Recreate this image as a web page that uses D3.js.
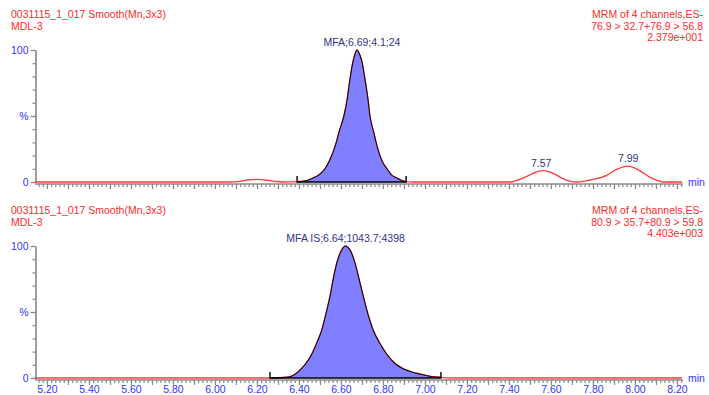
<!DOCTYPE html>
<html>
<head>
<meta charset="utf-8">
<script src="https://cdn.jsdelivr.net/npm/d3@7"></script>
<style>
  body { margin: 0; background: #fff; }
  svg { display: block; font-family: "Liberation Sans", Arial, sans-serif; }
</style>
</head>
<body>
<div id="draw-area"></div>
<script>
// ---- data (time in min, intensity in %) ----
var topTime = [5.143, 6.072, 6.119, 6.157, 6.200, 6.238, 6.286, 6.324, 6.391,
               6.429, 6.467, 6.500, 6.524, 6.548, 6.572, 6.595, 6.614, 6.629, 6.643, 6.657, 6.667, 6.676,
               6.688, 6.700, 6.714, 6.729, 6.738, 6.757, 6.772, 6.795, 6.819, 6.843, 6.867, 6.891, 6.910,
               6.95, 7.405, 7.468, 7.514, 7.563, 7.611, 7.651, 7.691, 7.722, 7.786, 7.865, 7.913, 7.968,
               8.024, 8.072, 8.119, 8.133, 8.224];
var topPct  = [0, 0, 0.5, 1.5, 2, 1.5, 0.5, 0, 0.3,
               0.8, 3, 6, 10, 17, 27, 40, 50, 62, 78, 91, 97, 100,
               97, 91, 78, 62, 50, 37, 27, 16, 10, 5, 3, 1, 0.3,
               0, 0, 3, 6.5, 8.6, 6.5, 3, 0.5, 0, 1.5, 5, 9.5, 12,
               8.5, 3.5, 0.5, 0, 0];
var topPeak = [6.391, 6.910];          // integration markers

var botTime = [5.143, 6.262, 6.310, 6.357, 6.405, 6.433, 6.461, 6.486, 6.508, 6.529, 6.548, 6.562,
               6.580, 6.600, 6.612, 6.622, 6.633, 6.643, 6.667, 6.686, 6.706, 6.729, 6.754, 6.786, 6.818,
               6.857, 6.897, 6.938, 6.976, 7.038, 7.076, 7.12, 8.224];
var botPct  = [0, 0, 0.3, 1, 6, 11, 18, 27, 36, 49, 62, 74,
               87, 96, 99, 100, 99, 97, 87, 75, 62, 48, 36, 26, 18,
               11, 7, 4.5, 3, 1, 0.5, 0, 0];
var botPeak = [6.262, 7.076];

var xLabels = ["5.20","5.40","5.60","5.80","6.00","6.20","6.40","6.60","6.80","7.00",
               "7.20","7.40","7.60","7.80","8.00","8.20"];

var headerLeft  = ["0031115_1_017 Smooth(Mn,3x3)", "MDL-3"];
var topRight    = ["MRM of 4 channels,ES-", "76.9 > 32.7+76.9 > 56.8", "2.379e+001"];
var botRight    = ["MRM of 4 channels,ES-", "80.9 > 35.7+80.9 > 59.8", "4.403e+003"];

var topLabels = [{t: 6.676, p: 100, text: "MFA;6.69;4.1;24", dx: 5},
                 {t: 7.563, p: 8.6, text: "7.57", dx: -2},
                 {t: 7.968, p: 12,  text: "7.99", dx: 0}];
var botLabels = [{t: 6.622, p: 100, text: "MFA IS;6.64;1043.7;4398", dx: 0}];

var svgw = 709, svgh = 395;
var RED = "#ff2a2a", BLUE = "#3333ff", NAVY = "#333388", GREY = "#8a8a8a";

var svg = d3.select("#draw-area").append("svg")
    .attr("width", svgw).attr("height", svgh)
    .style("font-size", "10.5px");

var x = d3.scaleLinear().domain([5.143, 8.224]).range([35, 682]);

function panel(top, time, pct, peak, right, labels, showX){
  var y = d3.scaleLinear().domain([0, 100]).range([top + 132, top]);
  var g = svg.append("g");
  var base = y(0);

  // headers
  g.selectAll("text.hl").data(headerLeft).enter().append("text")
    .attr("x", 11).attr("y", function(d, i){ return top - 32 + i * 11.5; })
    .attr("fill", RED).text(function(d){ return d; });
  g.selectAll("text.hr").data(right).enter().append("text")
    .attr("x", 703).attr("y", function(d, i){ return top - 32 + i * 11.5; })
    .attr("text-anchor", "end").attr("fill", RED).text(function(d){ return d; });

  // y axis
  var yMinor = d3.axisLeft(y).tickValues(d3.range(0, 101, 10)).tickSize(3).tickFormat("").tickSizeOuter(0);
  var yMajor = d3.axisLeft(y).tickValues([0, 50, 100]).tickSize(5).tickSizeOuter(0)
      .tickFormat(function(d){ return d == 50 ? "%" : d; });
  [yMinor, yMajor].forEach(function(ax){
    var a = g.append("g").attr("transform", "translate(35.5,0)").call(ax);
    a.selectAll("path, line").attr("stroke", GREY).attr("stroke-width", 1.2);
    a.selectAll("text").attr("fill", BLUE).attr("font-size", "10.5px")
      .attr("font-family", "Liberation Sans, Arial, sans-serif").attr("dx", "1");
  });

  // x axis
  var axY = base + 2;
  var xMinor = d3.axisBottom(x).tickValues(d3.range(516, 823, 2).map(function(v){ return v / 100; }))
      .tickSize(3).tickFormat("").tickSizeOuter(0);
  var xMajor = d3.axisBottom(x).tickValues(d3.range(52, 83, 1).map(function(v){ return v / 10; }))
      .tickSize(5).tickSizeOuter(0).tickFormat(function(d){
        var s = d.toFixed(2);
        return (showX && xLabels.indexOf(s) >= 0) ? s : "";
      });
  [xMinor, xMajor].forEach(function(ax){
    var a = g.append("g").attr("transform", "translate(0," + axY + ")").call(ax);
    a.selectAll("path, line").attr("stroke", GREY).attr("stroke-width", 1.2);
    a.select(".domain").attr("d", "M35,0H683");
    a.selectAll("text").attr("fill", BLUE).attr("font-size", "10.5px")
      .attr("font-family", "Liberation Sans, Arial, sans-serif").attr("dy", "0.5em");
  });
  g.append("text").attr("x", 688).attr("y", base + 4).attr("fill", BLUE).text("min");

  var pts = time.map(function(t, i){ return [t, pct[i]]; });

  // trace
  var line = d3.line().x(function(d){ return x(d[0]); }).y(function(d){ return y(d[1]); })
      .curve(d3.curveMonotoneX);
  g.append("path").datum(pts).attr("d", line)
    .attr("fill", "none").attr("stroke", "#ff3b3b").attr("stroke-width", 1.4);

  // integrated peak
  var pk = pts.filter(function(d){ return d[0] >= peak[0] && d[0] <= peak[1]; });
  var area = d3.area().x(function(d){ return x(d[0]); }).y0(base).y1(function(d){ return y(d[1]); })
      .curve(d3.curveMonotoneX);
  g.append("path").datum(pk).attr("d", area).attr("fill", "#7f7fff");
  g.append("path").datum(pk).attr("d", line)
    .attr("fill", "none").attr("stroke", "#220000").attr("stroke-width", 1.1);
  g.append("path")
    .attr("d", "M" + x(peak[0]) + "," + (base - 6) + "V" + base + "H" + x(peak[1]) + "V" + (base - 6))
    .attr("fill", "none").attr("stroke", "#000").attr("stroke-width", 1.4);

  // peak labels
  g.selectAll("text.pk").data(labels).enter().append("text")
    .attr("x", function(d){ return x(d.t) + d.dx; })
    .attr("y", function(d){ return y(d.p) - 4; })
    .attr("text-anchor", "middle").attr("fill", NAVY).text(function(d){ return d.text; });
}

panel(50, topTime, topPct, topPeak, topRight, topLabels, false);
panel(246, botTime, botPct, botPeak, botRight, botLabels, true);
</script>
</body>
</html>
